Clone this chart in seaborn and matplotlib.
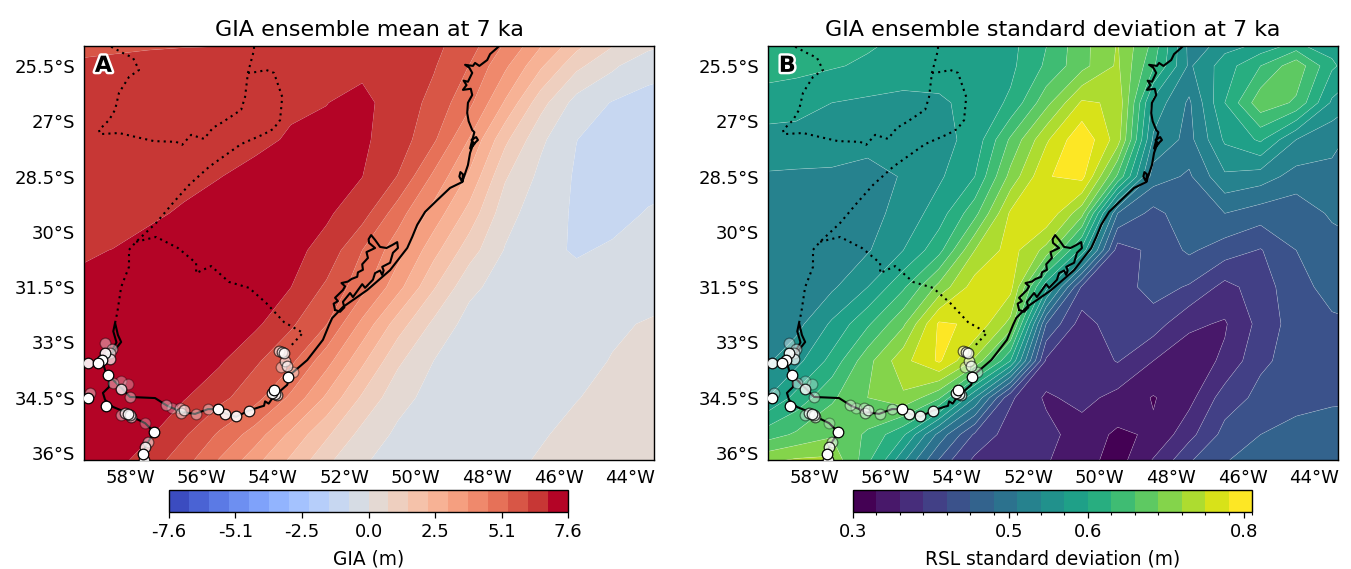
import numpy as np
import matplotlib
matplotlib.use("Agg")
import matplotlib.pyplot as plt
import matplotlib.patheffects as pe
import seaborn as sns

sns.set_style("white")
plt.rcParams["font.family"] = ["DejaVu Sans"]
plt.rcParams["text.color"] = "black"
plt.rcParams["axes.labelcolor"] = "black"
plt.rcParams["xtick.color"] = "black"
plt.rcParams["ytick.color"] = "black"

grid_lons = [-59.5, -58.5, -57.5, -56.5, -55.5, -54.5, -53.5, -52.5, -51.5, -50.5,
             -49.5, -48.5, -47.5, -46.5, -45.5, -44.5, -43.5, -42.5]
grid_lats = [-24.5, -25.5, -26.5, -27.5, -28.5, -29.5, -30.5, -31.5, -32.5, -33.5,
             -34.5, -35.5, -36.5]

gia_grid = [
    [5.6, 5.6, 5.65, 5.65, 5.65, 5.8, 6.2, 6.3, 6.3, 6.3, 6.3, 5.85, 4.85, 3.65, 2.4, 1.35, .9, .3],
    [6.2, 6.3, 6.4, 6.5, 6.55, 6.6, 6.65, 6.7, 6.7, 6.55, 6.15, 5.3, 3.95, 2.4, .95, .15, -.6, -.7],
    [6.2, 6.3, 6.4, 6.5, 6.6, 6.7, 6.78, 6.83, 7.0, 6.55, 5.85, 4.75, 2.95, 1.05, -.3, -.8, -.9, -.95],
    [6.1, 6.2, 6.3, 6.45, 6.6, 6.75, 6.88, 6.95, 6.95, 6.5, 5.45, 3.75, 1.7, .15, -.75, -1.05, -1.0, -.9],
    [6.2, 6.35, 6.5, 6.7, 6.83, 6.95, 7.0, 7.0, 6.85, 6.05, 4.4, 2.9, .85, -.2, -.85, -1.0, -.95, -.85],
    [6.3, 6.55, 6.75, 6.9, 7.0, 7.1, 7.1, 6.95, 6.4, 4.9, 3.5, 2.0, .3, -.45, -.85, -.95, -.72, -.6],
    [6.75, 6.85, 7.0, 7.1, 7.2, 7.2, 7.05, 6.6, 5.32, 4.1, 2.55, 1.1, -.05, -.6, -.82, -.68, -.6, -.5],
    [6.95, 7.05, 7.15, 7.25, 7.25, 7.1, 6.85, 5.95, 4.85, 3.3, 1.6, .2, -.35, -.5, -.55, -.45, -.3, -.15],
    [7.0, 7.1, 7.2, 7.25, 7.2, 7.0, 6.2, 5.35, 3.6, 1.9, .6, -.3, -.5, -.5, -.35, -.1, .05, .2],
    [7.0, 7.1, 7.2, 7.1, 6.95, 6.2, 5.5, 4.1, 2.45, .9, 0, -.3, -.4, -.4, -.2, .03, .2, .35],
    [7.0, 7.1, 7.05, 6.9, 6.3, 5.6, 4.4, 2.9, 1.4, .25, -.25, -.4, -.35, -.2, -.02, .15, .3, .4],
    [7.0, 7.0, 6.95, 6.2, 5.2, 4.2, 2.85, 1.65, .5, -.15, -.35, -.4, -.25, -.05, .15, .3, .4, .5],
    [7.0, 6.95, 6.3, 5.35, 4.2, 2.95, 1.85, .7, 0, -.25, -.35, -.3, -.1, .1, .25, .4, .5, .6],
]

std_grid = [
    [.625, .62, .615, .61, .60, .60, .605, .59, .625, .68, .72, .66, .53, .54, .54, .56, .58, .60],
    [.615, .61, .603, .595, .59, .585, .585, .593, .635, .68, .725, .635, .535, .585, .63, .68, .605, .57],
    [.585, .58, .57, .565, .56, .565, .58, .605, .68, .755, .745, .56, .505, .60, .68, .655, .565, .53],
    [.56, .56, .555, .55, .55, .56, .58, .665, .745, .805, .735, .535, .50, .575, .605, .54, .515, .50],
    [.537, .535, .535, .53, .542, .565, .60, .70, .778, .79, .655, .495, .475, .535, .525, .498, .505, .515],
    [.53, .53, .535, .53, .55, .585, .65, .755, .775, .70, .48, .44, .47, .48, .465, .46, .485, .50],
    [.515, .52, .53, .537, .57, .62, .72, .763, .71, .59, .405, .428, .455, .435, .418, .45, .465, .475],
    [.52, .525, .535, .57, .625, .70, .765, .76, .58, .415, .405, .432, .417, .38, .405, .44, .46, .465],
    [.515, .53, .575, .625, .685, .785, .775, .71, .45, .375, .41, .405, .365, .357, .40, .435, .445, .45],
    [.53, .56, .61, .68, .74, .785, .715, .60, .385, .37, .392, .36, .345, .365, .415, .43, .44, .445],
    [.56, .61, .655, .69, .715, .665, .54, .395, .355, .37, .35, .328, .35, .405, .428, .44, .445, .445],
    [.64, .665, .685, .655, .605, .50, .415, .375, .37, .345, .325, .334, .38, .43, .45, .46, .465, .47],
    [.74, .75, .745, .625, .52, .425, .37, .37, .36, .335, .322, .375, .43, .455, .46, .465, .47, .475],
]

# sites: lon, lat, opacity
site_lon = [-58.70, -58.51, -58.56, -58.70, -58.56, -58.79, -58.89, -59.17, -58.61, -58.47,
            -58.26, -58.05, -58.25, -58.00, -59.12, -59.19, -58.67, -58.26, -58.14, -58.05,
            -58.00, -57.98, -57.58, -57.32, -57.50, -57.58, -57.63, -57.61, -57.00, -56.83,
            -56.60, -56.49, -56.58, -56.15, -55.81, -55.54, -55.33, -55.04, -54.68, -53.83,
            -53.75, -53.70, -53.66, -53.78, -53.61, -53.44, -53.57, -53.98, -54.03, -53.94,
            -53.89]
site_lat = [-33.02, -33.19, -33.29, -33.29, -33.46, -33.48, -33.55, -33.57, -33.89, -34.09,
            -34.05, -34.13, -34.26, -34.49, -34.36, -34.52, -34.72, -34.97, -34.92, -34.94,
            -34.97, -35.03, -35.19, -35.44, -35.69, -35.83, -36.03, -36.19, -34.71, -34.77,
            -34.79, -34.83, -34.92, -34.93, -34.80, -34.80, -34.95, -35.01, -34.86, -33.22,
            -33.25, -33.28, -33.50, -33.66, -33.64, -33.80, -33.94, -34.29, -34.36, -34.41,
            -34.42]
site_alpha = [.4, .5, .5, .9, .7, 1, 1, .9, 1, .4,
              .3, .3, .8, .4, .4, 1, 1, .4, .7, .8,
              .7, .6, .3, 1, .5, .8, 1, .9, .4, .3,
              .4, .6, .5, .4, .4, 1, .9, .9, .9, .6,
              .7, .7, .6, .4, .6, .4, 1, 1, .9, .8,
              .7]

plata_s_lon = [-57.64, -57.58, -57.33, -57.58, -57.94, -58.08, -58.48, -58.70, -58.76, -58.59,
               -58.59, -58.70, -58.76, -58.62, -58.42, -58.25, -58.34, -58.42, -58.47, -58.38, -58.50]
plata_s_lat = [-36.19, -35.84, -35.43, -35.19, -35.02, -34.91, -34.75, -34.56, -34.37, -34.21,
               -34.02, -33.75, -33.56, -33.42, -33.20, -32.99, -32.80, -32.47, -32.70, -33.00, -33.20]

coast_lon = [-58.62, -58.22, -58.00, -57.30, -56.96, -56.54, -56.18, -55.82, -55.54, -55.31,
             -55.03, -54.70, -54.36, -54.25, -54.22, -54.12, -53.99, -53.60, -53.52, -53.04, -52.60, -52.43, -52.34,
             -52.12, -52.04, -51.36, -50.72, -50.24, -50.10, -49.96, -49.74, -49.40, -49.04, -48.70,
             -48.78, -48.75, -48.68, -48.70, -48.54,
             -48.48, -48.40, -48.26, -48.31, -48.44, -48.36, -48.48, -48.36, -48.42, -48.52, -48.56, -48.54,
             -48.42, -48.46, -48.68, -48.58, -48.66, -48.54, -48.42, -48.50, -48.62, -48.40, -48.34, -48.22, -48.00, -47.92, -47.72, -47.64]
coast_lat = [-33.88, -34.26, -34.48, -34.51, -34.72, -34.89, -34.94, -34.81, -34.81, -34.94,
             -35.02, -34.86, -34.75, -34.72, -34.60, -34.66, -34.48, -34.15, -33.88, -33.48, -32.93, -32.53, -32.34,
             -32.12, -32.04, -31.58, -31.04, -30.44, -30.14, -29.81, -29.46, -29.14, -28.81, -28.65,
             -28.50, -28.38, -28.44, -28.65, -28.19,
             -27.86, -27.64, -27.51, -27.43, -27.51, -27.62, -27.74, -27.30, -27.24, -27.00, -26.78, -26.50,
             -26.29, -26.12, -26.15, -26.02, -25.90, -25.93, -25.69, -25.55, -25.47, -25.50, -25.42, -25.50, -25.34, -25.18, -25.01, -24.93]

lagoon_lon = [-52.26, -52.30, -52.18, -52.26, -52.04, -51.98, -52.08, -51.90, -51.80, -51.64, -51.62, -51.48, -51.50, -51.34, -51.38,
              -51.14, -51.31, -51.32, -51.25, -51.14, -51.00, -50.82, -50.66, -50.52, -50.50, -50.64, -50.72, -50.94, -50.90, -50.94, -51.00,
              -51.14, -51.20, -51.42, -51.50, -51.76, -51.84, -52.04, -52.00, -52.12, -52.26]
lagoon_lat = [-32.12, -31.95, -31.88, -31.79, -31.58, -31.48, -31.39, -31.35, -31.28, -31.22, -31.10, -31.03, -30.88, -30.71, -30.55,
              -30.44, -30.30, -30.20, -30.09, -30.22, -30.41, -30.44, -30.36, -30.28, -30.44, -30.57, -30.84, -30.95, -31.05, -31.17, -31.05,
              -31.12, -31.30, -31.52, -31.42, -31.77, -31.66, -31.90, -32.05, -32.17, -32.12]

border_a_lon = [-58.53, -58.20, -57.92, -57.75, -58.03, -58.31, -58.42, -58.59, -58.87, -58.84,
                -58.31, -57.83, -57.33, -56.71, -56.54, -56.29, -55.93, -55.68, -55.40, -54.89,
                -54.78, -54.70, -54.53, -54.53]
border_a_lat = [-24.98, -25.15, -25.28, -25.61, -25.80, -26.23, -26.69, -26.97, -27.24, -27.35,
                -27.32, -27.43, -27.54, -27.56, -27.64, -27.37, -27.48, -27.18, -27.02, -26.69,
                -26.34, -25.69, -25.07, -24.98]
border_b_lon = [-54.70, -54.42, -54.19, -53.97, -53.74, -53.80, -53.99, -54.25, -54.89, -55.40,
                -55.79, -56.35, -56.80, -57.27, -57.83, -58.03, -58.03, -58.25, -58.36, -58.42]
border_b_lat = [-25.69, -25.66, -25.61, -25.69, -26.34, -26.97, -27.21, -27.35, -27.62, -27.97,
                -28.24, -28.73, -29.22, -29.76, -30.27, -30.49, -30.95, -31.50, -32.20, -32.47]
border_c_lon = [-57.83, -57.27, -56.66, -56.52, -56.15, -56.15, -55.73, -55.23, -54.67, -54.19,
                -53.69, -53.16, -53.55]
border_c_lat = [-30.27, -30.14, -30.44, -30.55, -30.85, -31.12, -30.93, -31.36, -31.52, -31.93,
                -32.45, -32.74, -33.15]

lon_ticks = [-58, -56, -54, -52, -50, -48, -46, -44]
lon_labels = ["58°W", "56°W", "54°W", "52°W", "50°W", "48°W", "46°W", "44°W"]
lat_ticks = [-25.5, -27, -28.5, -30, -31.5, -33, -34.5, -36]
lat_labels = ["25.5°S", "27°S", "28.5°S", "30°S", "31.5°S", "33°S", "34.5°S", "36°S"]

gia_ticks = [-7.6, -5.07, -2.53, 0.0, 2.53, 5.07, 7.6]
gia_ticklabels = ["-7.6", "-5.1", "-2.5", "0.0", "2.5", "5.1", "7.6"]
std_ticks = [0.3, 0.5, 0.6, 0.8]
std_ticklabels = ["0.3", "0.5", "0.6", "0.8"]

W, H = 1351, 569
fig = plt.figure(figsize=(W / 100, H / 100), dpi=100)


def box(x0, y0, x1, y1):
    return [x0 / W, 1 - y1 / H, (x1 - x0) / W, (y1 - y0) / H]


def panel(rect, grid, levels, cmap, title, letter, seam):
    ax = fig.add_axes(rect)
    cf = ax.contourf(grid_lons, grid_lats, np.array(grid), levels=levels, cmap=cmap,
                     antialiased=True)
    ax.contour(grid_lons, grid_lats, np.array(grid), levels=levels, colors="white",
               linewidths=0.4, alpha=seam)
    kw = dict(ax=ax, color="black", sort=False, estimator=None, legend=False)
    for lo, la in [(plata_s_lon, plata_s_lat), (coast_lon, coast_lat), (lagoon_lon, lagoon_lat)]:
        sns.lineplot(x=lo, y=la, linewidth=1.5, zorder=3, **kw)
    for lo, la in [(border_a_lon, border_a_lat), (border_b_lon, border_b_lat),
                   (border_c_lon, border_c_lat)]:
        sns.lineplot(x=lo, y=la, linewidth=1.5, linestyle=(0, (1, 2.0)), zorder=3, **kw)
    order = sorted(set(site_alpha))
    for a in order:
        lo = [v for v, s in zip(site_lon, site_alpha) if s == a]
        la = [v for v, s in zip(site_lat, site_alpha) if s == a]
        sns.scatterplot(x=lo, y=la, ax=ax, color="white", edgecolor="black", s=58,
                        linewidth=0.9, alpha=a, zorder=4 + a, legend=False)
    ax.set_xlim(-59.29, -43.33)
    ax.set_ylim(-36.19, -24.96)
    ax.set_xticks(lon_ticks, lon_labels)
    ax.set_yticks(lat_ticks, lat_labels)
    ax.tick_params(length=0, labelsize=13, pad=6.5, colors="black")
    ax.set_xlabel("")
    ax.set_ylabel("")
    ax.set_title(title, fontsize=16, pad=7.5)
    for s in ax.spines.values():
        s.set_visible(True)
        s.set_color("black")
        s.set_linewidth(1.0)
    ax.text(0.019, 0.952, letter, transform=ax.transAxes, fontsize=16, fontweight="bold",
            color="black", va="center", ha="left", zorder=8,
            path_effects=[pe.withStroke(linewidth=3.5, foreground="white")])
    return cf


gia_levels = np.linspace(-7.6, 7.6, 21)
std_levels = np.linspace(0.30, 0.81, 18)
cf_a = panel(box(84, 46, 654, 460), gia_grid, gia_levels, plt.get_cmap("coolwarm", 20),
             "GIA ensemble mean at 7 ka", "A", 0.12)
cf_b = panel(box(768, 46, 1338, 460), std_grid, std_levels, plt.get_cmap("viridis", 17),
             "GIA ensemble standard deviation at 7 ka", "B", 0.35)

cax_a = fig.add_axes(box(169, 490, 568, 512))
cb_a = fig.colorbar(cf_a, cax=cax_a, orientation="horizontal")
cb_a.set_ticks(gia_ticks, labels=gia_ticklabels)
cb_a.ax.minorticks_off()
cb_a.set_label("GIA (m)", fontsize=13.4, labelpad=6)

cax_b = fig.add_axes(box(853, 490, 1252, 512))
cb_b = fig.colorbar(cf_b, cax=cax_b, orientation="horizontal")
cb_b.set_ticks(std_ticks, labels=std_ticklabels)
cb_b.ax.set_xticks(std_levels, minor=True)
cb_b.set_label("RSL standard deviation (m)", fontsize=13.4, labelpad=6)
for cb in (cb_a, cb_b):
    cb.ax.tick_params(which="major", length=4, width=0.9, labelsize=13, pad=4, bottom=True)
    cb.ax.tick_params(which="minor", length=2.2, width=0.8, bottom=True)
    cb.outline.set_edgecolor("black")
    cb.outline.set_linewidth(1.0)
    cb.outline.set_visible(True)

fig.savefig("out.png", dpi=100)
